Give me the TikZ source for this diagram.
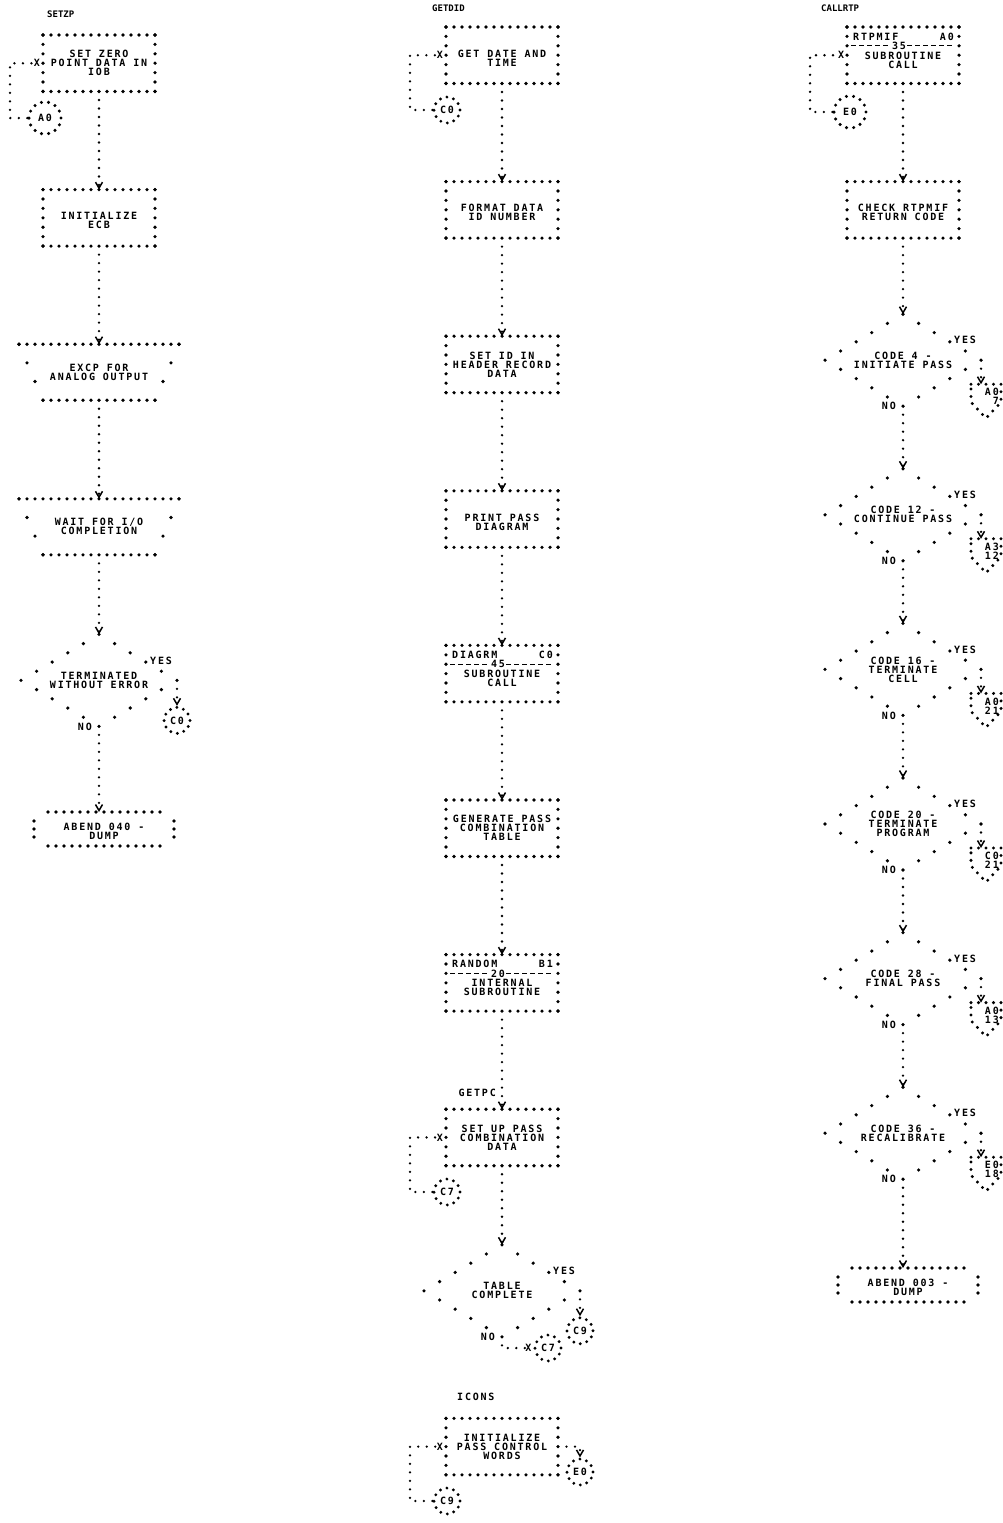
\documentclass[tikz,border=0pt]{standalone}
\usepackage{fontspec}
\newfontfamily\lpfont{DejaVu Sans Mono}[LetterSpace=18]
\newfontfamily\lpsmall{DejaVu Sans Mono}
\usetikzlibrary{arrows.meta,calc}
\tikzset{
  txt/.style={font={\lpfont\bfseries\fontsize{10}{9}\selectfont}, align=center, inner sep=0pt, text=black},
  lbl/.style={font={\lpsmall\bfseries\fontsize{9}{9}\selectfont}, inner sep=0pt, text=black},
  blk/.style={minimum width=112pt, minimum height=56.5pt, inner sep=0pt, outer sep=0pt},
  hdots/.style={draw=black, line width=3.6pt, line cap=round, dash pattern=on 0pt off 8pt},
  vdots/.style={draw=black, line width=3.6pt, line cap=round, dash pattern=on 0pt off 9.4pt},
  sdots/.style={draw=black, line width=3.6pt, line cap=round, dash pattern=on 0pt off 20.3pt},
  tdots/.style={draw=black, line width=3.6pt, line cap=round, dash pattern=on 0pt off 8pt},
  ddots/.style={draw=black, line width=3.6pt, line cap=round, dash pattern=on 0pt off 18.11pt},
  pdots/.style={draw=black, line width=3.3pt, line cap=round, dash pattern=on 0pt off 7.5pt},
  dashl/.style={draw=black, line width=1.1pt, dash pattern=on 4.5pt off 3.5pt},
  conn/.style={draw=black, line width=2.6pt, line cap=round, dash pattern=on 0pt off 8.5pt},
  arr/.style={conn, -{Straight Barb[length=6pt,width=7pt,line width=1.5pt]}},
  c3/.style={txt, circle, draw=black, line width=3.2pt, line cap=round, dash pattern=on 0pt off 6.8pt, minimum size=26pt, inner sep=0pt},
  c4/.style={txt, circle, draw=black, line width=3.4pt, line cap=round, dash pattern=on 0pt off 7.18pt, minimum size=32pt, inner sep=0pt},
}
\newcommand\dotrect[1]{%
  \draw[hdots] (#1.north west) -- (#1.north east) (#1.south west) -- (#1.south east);
  \draw[vdots] (#1.north west) -- (#1.south west) (#1.north east) -- (#1.south east);}
\newcommand\pbox[5]{%
  \node[blk] (#1) at (#2,#3) {};
  \dotrect{#1}
  \node[txt] (#1t) at ($(#1)+(0,#5)$) {#4};}
\newcommand\subbox[7]{%
  \node[blk] (#1) at (#2,#3) {};
  \dotrect{#1}
  \node[txt, anchor=west] (#1p) at ($(#1.north west)+(6,9.5)$) {#4};
  \node[txt, anchor=east] (#1r) at ($(#1.north east)+(-5,9.5)$) {#5};
  \draw[dashl] ($(#1.north west)+(4,18.8)$) -- ($(#1.north east)+(-4,18.8)$);
  \node[txt, fill=white, inner xsep=1pt, inner ysep=0.5pt] (#1n) at ($(#1.north)+(-4,18.8)$) {#6};
  \node[txt] (#1t) at ($(#1.north)+(0,33)$) {#7};}
\newcommand\iobox[4]{%
  \node[inner sep=0pt, outer sep=0pt, minimum width=114pt, minimum height=56pt, anchor=north] (#1) at (#2,#3) {};
  \node[txt] (#1t) at (#1) {#4};
  \draw[hdots] ($(#1.north)+(-80,0)$) -- ($(#1.north)+(80,0)$);
  \draw[hdots] ($(#1.south)+(-56,0)$) -- ($(#1.south)+(56,0)$);
  \draw[sdots] ($(#1.north)+(-80,0)$) -- ($(#1.south)+(-56,0)$);
  \draw[sdots] ($(#1.north)+(80,0)$) -- ($(#1.south)+(56,0)$);}
\newcommand\ddiam[4]{%
  \node[txt] (#1) at (#2,#3) {#4};
  \coordinate (#1n) at ($(#1)+(0,-46)$);
  \coordinate (#1s) at ($(#1)+(0,46)$);
  \coordinate (#1e) at ($(#1)+(78,0)$);
  \coordinate (#1w) at ($(#1)+(-78,0)$);
  \draw[ddots] (#1n) -- (#1e) -- (#1s) -- (#1w) -- cycle;
  \node[txt, anchor=west] (#1y) at ($(#1)+(51,-20)$) {YES};
  \node[txt, anchor=east] (#1no) at ($(#1s)+(-7,0)$) {NO};}
\newcommand\term[4]{%
  \node[inner sep=0pt, outer sep=0pt, minimum width=112pt, minimum height=34pt] (#1) at (#2,#3) {};
  \node[txt] (#1t) at ($(#1)+(0,2)$) {#4};
  \draw[hdots] (#1.north west) -- (#1.north east) (#1.south west) -- (#1.south east);
  \draw[tdots] ($(#1.west)+(-14,-8)$) -- ($(#1.west)+(-14,8)$) ($(#1.east)+(14,-8)$) -- ($(#1.east)+(14,8)$);}
\newcommand\opc[4]{%
  \coordinate (#1l) at (#2-15,#3);
  \coordinate (#1r) at (#2+15,#3);
  \coordinate (#1rb) at (#2+15,#3+18);
  \coordinate (#1p) at (#2,#3+34);
  \coordinate (#1lb) at (#2-15,#3+18);
  \draw[pdots] (#1l) -- (#1r) -- (#1rb) -- (#1p) -- (#1lb) -- cycle;
  \node[txt, align=right, anchor=north east] (#1t) at (#2+13,#3+4) {#4};}
\begin{document}
\begin{tikzpicture}[x=1pt,y=-1pt]
\fill[white] (0,0) rectangle (1003,1523);
\useasboundingbox (0,0) rectangle (1003,1523);

% ---------------- LEFT COLUMN ----------------
\node[lbl, anchor=west] (lSETZP) at (47,14) {SETZP};
\pbox{LB1}{99}{63.25}{SET ZERO\\POINT DATA IN\\IOB}{0}
\node[txt] (LX1) at ($(LB1.west)+(-6,0)$) {X};
\node[c4] (LA0) at (45,118) {A0};
\coordinate (LL1) at (10,63.25);
\draw[conn] (LA0) -| (LL1) -- (LX1);
\pbox{LB2}{99}{217.85}{INITIALIZE\\ECB}{3}
\draw[arr] (LB1) -- (LB2);
\iobox{LB3}{99}{344.2}{EXCP FOR\\ANALOG OUTPUT}
\draw[arr] (LB2) -- (LB3);
\iobox{LB4}{99}{498.8}{WAIT FOR I/O\\COMPLETION}
\draw[arr] (LB3) -- (LB4);
\ddiam{LD}{99}{680.4}{TERMINATED\\WITHOUT ERROR}
\draw[arr] (LB4) -- (LDn);
\node[c3] (LC0) at (177,720.4) {C0};
\draw[arr] (LDe) -- (LC0);
\term{LT}{104}{829}{ABEND 040 -\\DUMP}
\draw[arr] (LDs) -- (LDs |- LT.north);

% ---------------- MIDDLE COLUMN ----------------
\node[lbl, anchor=west] (lGETDID) at (432,8) {GETDID};
\pbox{MB1}{502}{55.25}{GET DATE AND\\TIME}{3}
\node[txt] (MX1) at ($(MB1.west)+(-6,0)$) {X};
\node[c3] (MC0) at (447,110) {C0};
\coordinate (ML1) at (410,55.25);
\draw[conn] (MC0) -| (ML1) -- (MX1);
\pbox{MB2}{502}{209.85}{FORMAT DATA\\ID NUMBER}{3}
\pbox{MB3}{502}{364.45}{SET ID IN\\HEADER RECORD\\DATA}{0}
\pbox{MB4}{502}{519.05}{PRINT PASS\\DIAGRAM}{3}
\subbox{MB5}{502}{673.65}{DIAGRM}{C0}{45}{SUBROUTINE\\CALL}
\pbox{MB6}{502}{828.25}{GENERATE PASS\\COMBINATION\\TABLE}{0}
\subbox{MB7}{502}{982.85}{RANDOM}{B1}{20}{INTERNAL\\SUBROUTINE}
\node[txt, anchor=east] (lGETPC) at (496,1093) {GETPC};
\pbox{MB8}{502}{1137.45}{SET UP PASS\\COMBINATION\\DATA}{0}
\node[txt] (MX8) at ($(MB8.west)+(-6,0)$) {X};
\node[c3] (MC7) at (447,1192) {C7};
\coordinate (ML8) at (410,1137.45);
\draw[conn] (MC7) -| (ML8) -- (MX8);
\draw[arr] (MB1) -- (MB2);
\draw[arr] (MB2) -- (MB3);
\draw[arr] (MB3) -- (MB4);
\draw[arr] (MB4) -- (MB5);
\draw[arr] (MB5) -- (MB6);
\draw[arr] (MB6) -- (MB7);
\draw[arr] (MB7) -- (MB8);
\ddiam{MD}{502}{1290.8}{TABLE\\COMPLETE}
\draw[arr] (MB8) -- (MDn);
\node[c3] (MC9) at (580,1330.8) {C9};
\draw[arr] (MDe) -- (MC9);
\node[c3] (MC7b) at (548,1348) {C7};
\node[txt] (MX7) at ($(MC7b.west)+(-5,0)$) {X};
\draw[conn] (MDs) |- (MX7);
\node[txt, anchor=west] (lICONS) at (457,1397) {ICONS};
\pbox{MB9}{502}{1446.65}{INITIALIZE\\PASS CONTROL\\WORDS}{0}
\node[txt] (MX9) at ($(MB9.west)+(-6,0)$) {X};
\node[c3] (MC9b) at (447,1501) {C9};
\coordinate (ML9) at (410,1446.65);
\draw[conn] (MC9b) -| (ML9) -- (MX9);
\node[c3] (ME0) at (580,1472) {E0};
\draw[arr] (MB9) -| (ME0);

% ---------------- RIGHT COLUMN ----------------
\node[lbl, anchor=west] (lCALLRTP) at (821,8) {CALLRTP};
\subbox{RB1}{903}{55.25}{RTPMIF}{A0}{35}{SUBROUTINE\\CALL}
\node[txt] (RX1) at ($(RB1.west)+(-6,0)$) {X};
\node[c4] (RE0) at (850,112) {E0};
\coordinate (RL1) at (810,55.25);
\draw[conn] (RE0) -| (RL1) -- (RX1);
\pbox{RB2}{903}{209.85}{CHECK RTPMIF\\RETURN CODE}{3}
\draw[arr] (RB1) -- (RB2);

\ddiam{RD1}{903}{360.2}{CODE 4 -\\INITIATE PASS}
\ddiam{RD2}{903}{514.8}{CODE 12 -\\CONTINUE PASS}
\ddiam{RD3}{903}{669.4}{CODE 16 -\\TERMINATE\\CELL}
\ddiam{RD4}{903}{824}{CODE 20 -\\TERMINATE\\PROGRAM}
\ddiam{RD5}{903}{978.6}{CODE 28 -\\FINAL PASS}
\ddiam{RD6}{903}{1133.2}{CODE 36 -\\RECALIBRATE}
\draw[arr] (RB2) -- (RD1n);
\draw[arr] (RD1s) -- (RD2n);
\draw[arr] (RD2s) -- (RD3n);
\draw[arr] (RD3s) -- (RD4n);
\draw[arr] (RD4s) -- (RD5n);
\draw[arr] (RD5s) -- (RD6n);

\opc{RP1}{986}{384.2}{A0\\7}
\opc{RP2}{986}{538.8}{A3\\12}
\opc{RP3}{986}{693.4}{A0\\21}
\opc{RP4}{986}{848}{C0\\21}
\opc{RP5}{986}{1002.6}{A0\\13}
\opc{RP6}{986}{1157.2}{E0\\18}
\draw[arr] (RD1e) -- (RD1e |- RP1l);
\draw[arr] (RD2e) -- (RD2e |- RP2l);
\draw[arr] (RD3e) -- (RD3e |- RP3l);
\draw[arr] (RD4e) -- (RD4e |- RP4l);
\draw[arr] (RD5e) -- (RD5e |- RP5l);
\draw[arr] (RD6e) -- (RD6e |- RP6l);

\term{RT}{908}{1285}{ABEND 003 -\\DUMP}
\draw[arr] (RD6s) -- (RD6s |- RT.north);
\end{tikzpicture}
\end{document}
